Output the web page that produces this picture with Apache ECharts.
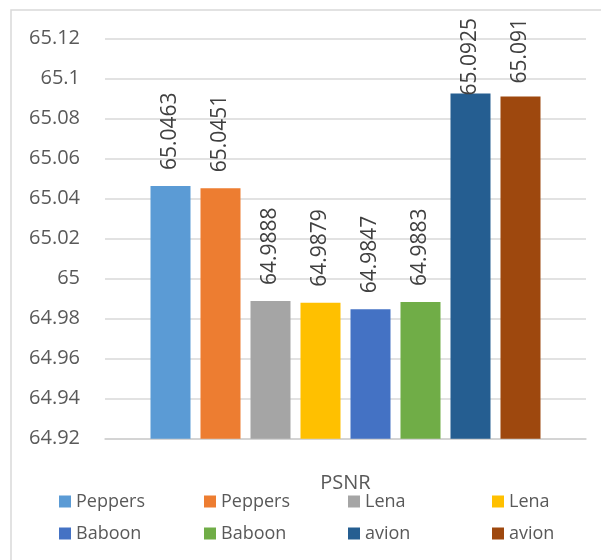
<!DOCTYPE html>
<html>
<head>
<meta charset="utf-8">
<script src="https://cdn.jsdelivr.net/npm/echarts@6/dist/echarts.min.js"></script>
<style>
  html, body { margin: 0; padding: 0; background: #fff; }
  #chart { width: 601px; height: 560px; }
</style>
</head>
<body>
<div id="chart"></div>
<script>
// Chart data
const categories = ['PSNR'];
const seriesLabels = ['Peppers', 'Peppers', 'Lena', 'Lena', 'Baboon', 'Baboon', 'avion', 'avion'];
const seriesValues = [65.0463, 65.0451, 64.9888, 64.9879, 64.9847, 64.9883, 65.0925, 65.091];
const yTicks = { min: 64.92, max: 65.12, step: 0.02 };

// Styling
const palette = ['#5B9BD5', '#ED7D31', '#A5A5A5', '#FFC000', '#4472C4', '#70AD47', '#255E91', '#9E480E'];
const labelGap = [16, 16, 16, 16, 16, 16, -2, 13];
const FONT = '"Open Sans", "Noto Sans", sans-serif';

// Unique ids so that repeated names each get their own legend entry
const ids = seriesLabels.map((n, i) => n + '#' + i);
const displayName = id => id.split('#')[0];

const series = ids.map((id, i) => ({
  name: id,
  type: 'bar',
  data: [seriesValues[i]],
  barWidth: 40,
  barGap: '25%',
  itemStyle: { color: palette[i] },
  label: {
    show: true,
    position: 'top',
    distance: labelGap[i],
    rotate: 90,
    align: 'left',
    verticalAlign: 'middle',
    fontFamily: FONT,
    fontSize: 21,
    color: '#404040',
    formatter: p => String(p.value)
  }
}));

// Four legend columns, two rows each (row-major order)
const colLeft = [54, 199, 343, 487];
const legends = colLeft.map((left, c) => ({
  orient: 'vertical',
  left: left,
  top: 487,
  itemWidth: 12,
  itemHeight: 12,
  itemGap: 13,
  icon: 'rect',
  data: [ids[c], ids[c + 4]],
  formatter: displayName,
  textStyle: { fontFamily: FONT, fontSize: 18, color: '#595959', lineHeight: 19, padding: [0, 0, 0, 0] },
  selectedMode: false
}));

const chart = echarts.init(document.getElementById('chart'), null, { renderer: 'canvas' });
chart.setOption({
  animation: false,
  backgroundColor: '#ffffff',
  textStyle: { fontFamily: FONT },
  grid: { left: 105, right: 15, top: 38.5, bottom: 121.3, containLabel: false },
  xAxis: {
    type: 'category',
    data: categories,
    axisLine: { show: true, lineStyle: { color: '#D0D0D0', width: 1.5 } },
    axisTick: { show: false },
    axisLabel: { fontFamily: FONT, fontSize: 20, color: '#595959', margin: 35 }
  },
  yAxis: {
    type: 'value',
    min: yTicks.min,
    max: yTicks.max,
    interval: yTicks.step,
    axisLine: { show: false },
    axisTick: { show: false },
    splitLine: { lineStyle: { color: '#D9D9D9', width: 1.5 } },
    axisLabel: {
      fontFamily: FONT, fontSize: 20, color: '#595959', margin: 25,
      formatter: v => String(parseFloat(v.toFixed(2)))
    }
  },
  legend: legends,
  series: series,
  graphic: [{
    type: 'polyline',
    silent: true,
    shape: { points: [[11, 600], [11, 10], [620, 10]] },
    style: { stroke: '#D9D9D9', lineWidth: 1.5, fill: null }
  }]
});
</script>
</body>
</html>
